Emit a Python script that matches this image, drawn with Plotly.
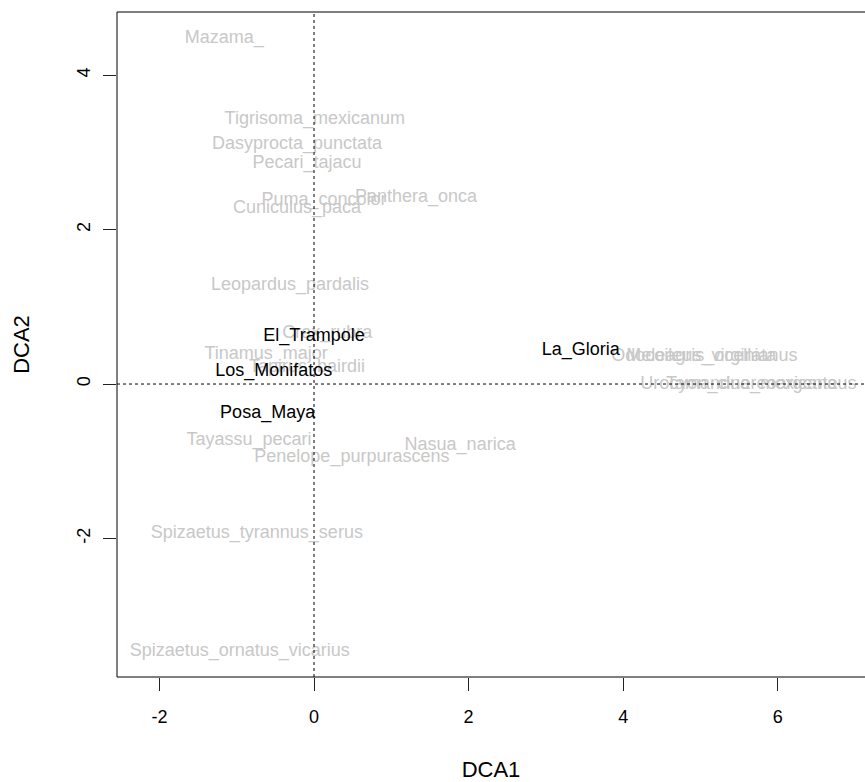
import plotly.graph_objects as go

species = ["Mazama_", "Tigrisoma_mexicanum", "Dasyprocta_punctata", "Pecari_tajacu",
           "Puma_concolor", "Panthera_onca", "Cuniculus_paca", "Leopardus_pardalis",
           "Crax_rubra", "Tinamus_major", "Tapirus_bairdii", "Tayassu_pecari",
           "Penelope_purpurascens", "Nasua_narica", "Spizaetus_tyrannus_serus",
           "Spizaetus_ornatus_vicarius", "Odocoileus_virginianus", "Meleagris_ocellata",
           "Urocyon_cinereoargenteus", "Tamandua_mexicana"]
sp_dca1 = [-1.16, 0.01, -0.22, -0.09, 0.13, 1.32, -0.22, -0.31, 0.17, -0.62, -0.09,
           -0.84, 0.49, 1.89, -0.74, -0.96, 5.05, 5.01, 5.62, 5.66]
sp_dca2 = [4.48, 3.43, 3.10, 2.86, 2.38, 2.41, 2.28, 1.28, 0.65, 0.38, 0.22,
           -0.73, -0.95, -0.80, -1.93, -3.46, 0.36, 0.36, -0.01, -0.01]

sites = ["El_Trampole", "Los_Monifatos", "Posa_Maya", "La_Gloria"]
site_dca1 = [0.0, -0.52, -0.60, 3.45]
site_dca2 = [0.61, 0.16, -0.38, 0.44]

xticks = [-2, 0, 2, 4, 6]
xticklabels = ["-2", "0", "2", "4", "6"]
yticks = [-2, 0, 2, 4]
yticklabels = ["-2", "0", "2", "4"]

font = "Liberation Sans, Arial, sans-serif"

fig = go.Figure()
fig.add_trace(go.Scatter(x=sp_dca1, y=sp_dca2, text=species, mode="text",
                         textposition="middle center",
                         textfont=dict(family=font, size=18, color="#c8c8c8"),
                         hoverinfo="text"))
fig.add_trace(go.Scatter(x=site_dca1, y=site_dca2, text=sites, mode="text",
                         textposition="middle center",
                         textfont=dict(family=font, size=18, color="black"),
                         hoverinfo="text"))

# dotted reference lines at origin
fig.add_shape(type="line", xref="x", yref="paper", x0=0, x1=0, y0=0, y1=1,
              line=dict(color="black", width=1, dash="dot"))
fig.add_shape(type="line", xref="paper", yref="y", x0=0, x1=1, y0=0, y1=0,
              line=dict(color="black", width=1, dash="dot"))
# frame (right edge lies outside the picture)
for s in [dict(x0=0, x1=0, y0=0, y1=1), dict(x0=0, x1=1, y0=1, y1=1), dict(x0=0, x1=1, y0=0, y1=0)]:
    fig.add_shape(type="line", xref="paper", yref="paper", line=dict(color="black", width=1), **s)

fig.update_layout(
    width=865, height=782,
    margin=dict(l=117, r=0, t=12, b=105),
    paper_bgcolor="white", plot_bgcolor="white",
    showlegend=False,
    font=dict(family=font, size=18, color="black"),
)
fig.update_xaxes(range=[-2.549, 7.128], tickvals=xticks, ticktext=xticklabels,
                 ticks="outside", ticklen=13,
                 tickcolor="#222", showgrid=False, zeroline=False, showline=False,
                 ticklabelstandoff=10,
                 title=dict(text="DCA1", standoff=40))
fig.update_yaxes(range=[-3.795, 4.819], tickvals=yticks, ticktext=yticklabels,
                 ticks="outside", ticklen=13,
                 tickcolor="#222", showgrid=False, zeroline=False, showline=False,
                 tickangle=-90, ticklabelstandoff=6,
                 title=dict(text="DCA2", standoff=38))

fig.write_html("out.html")
